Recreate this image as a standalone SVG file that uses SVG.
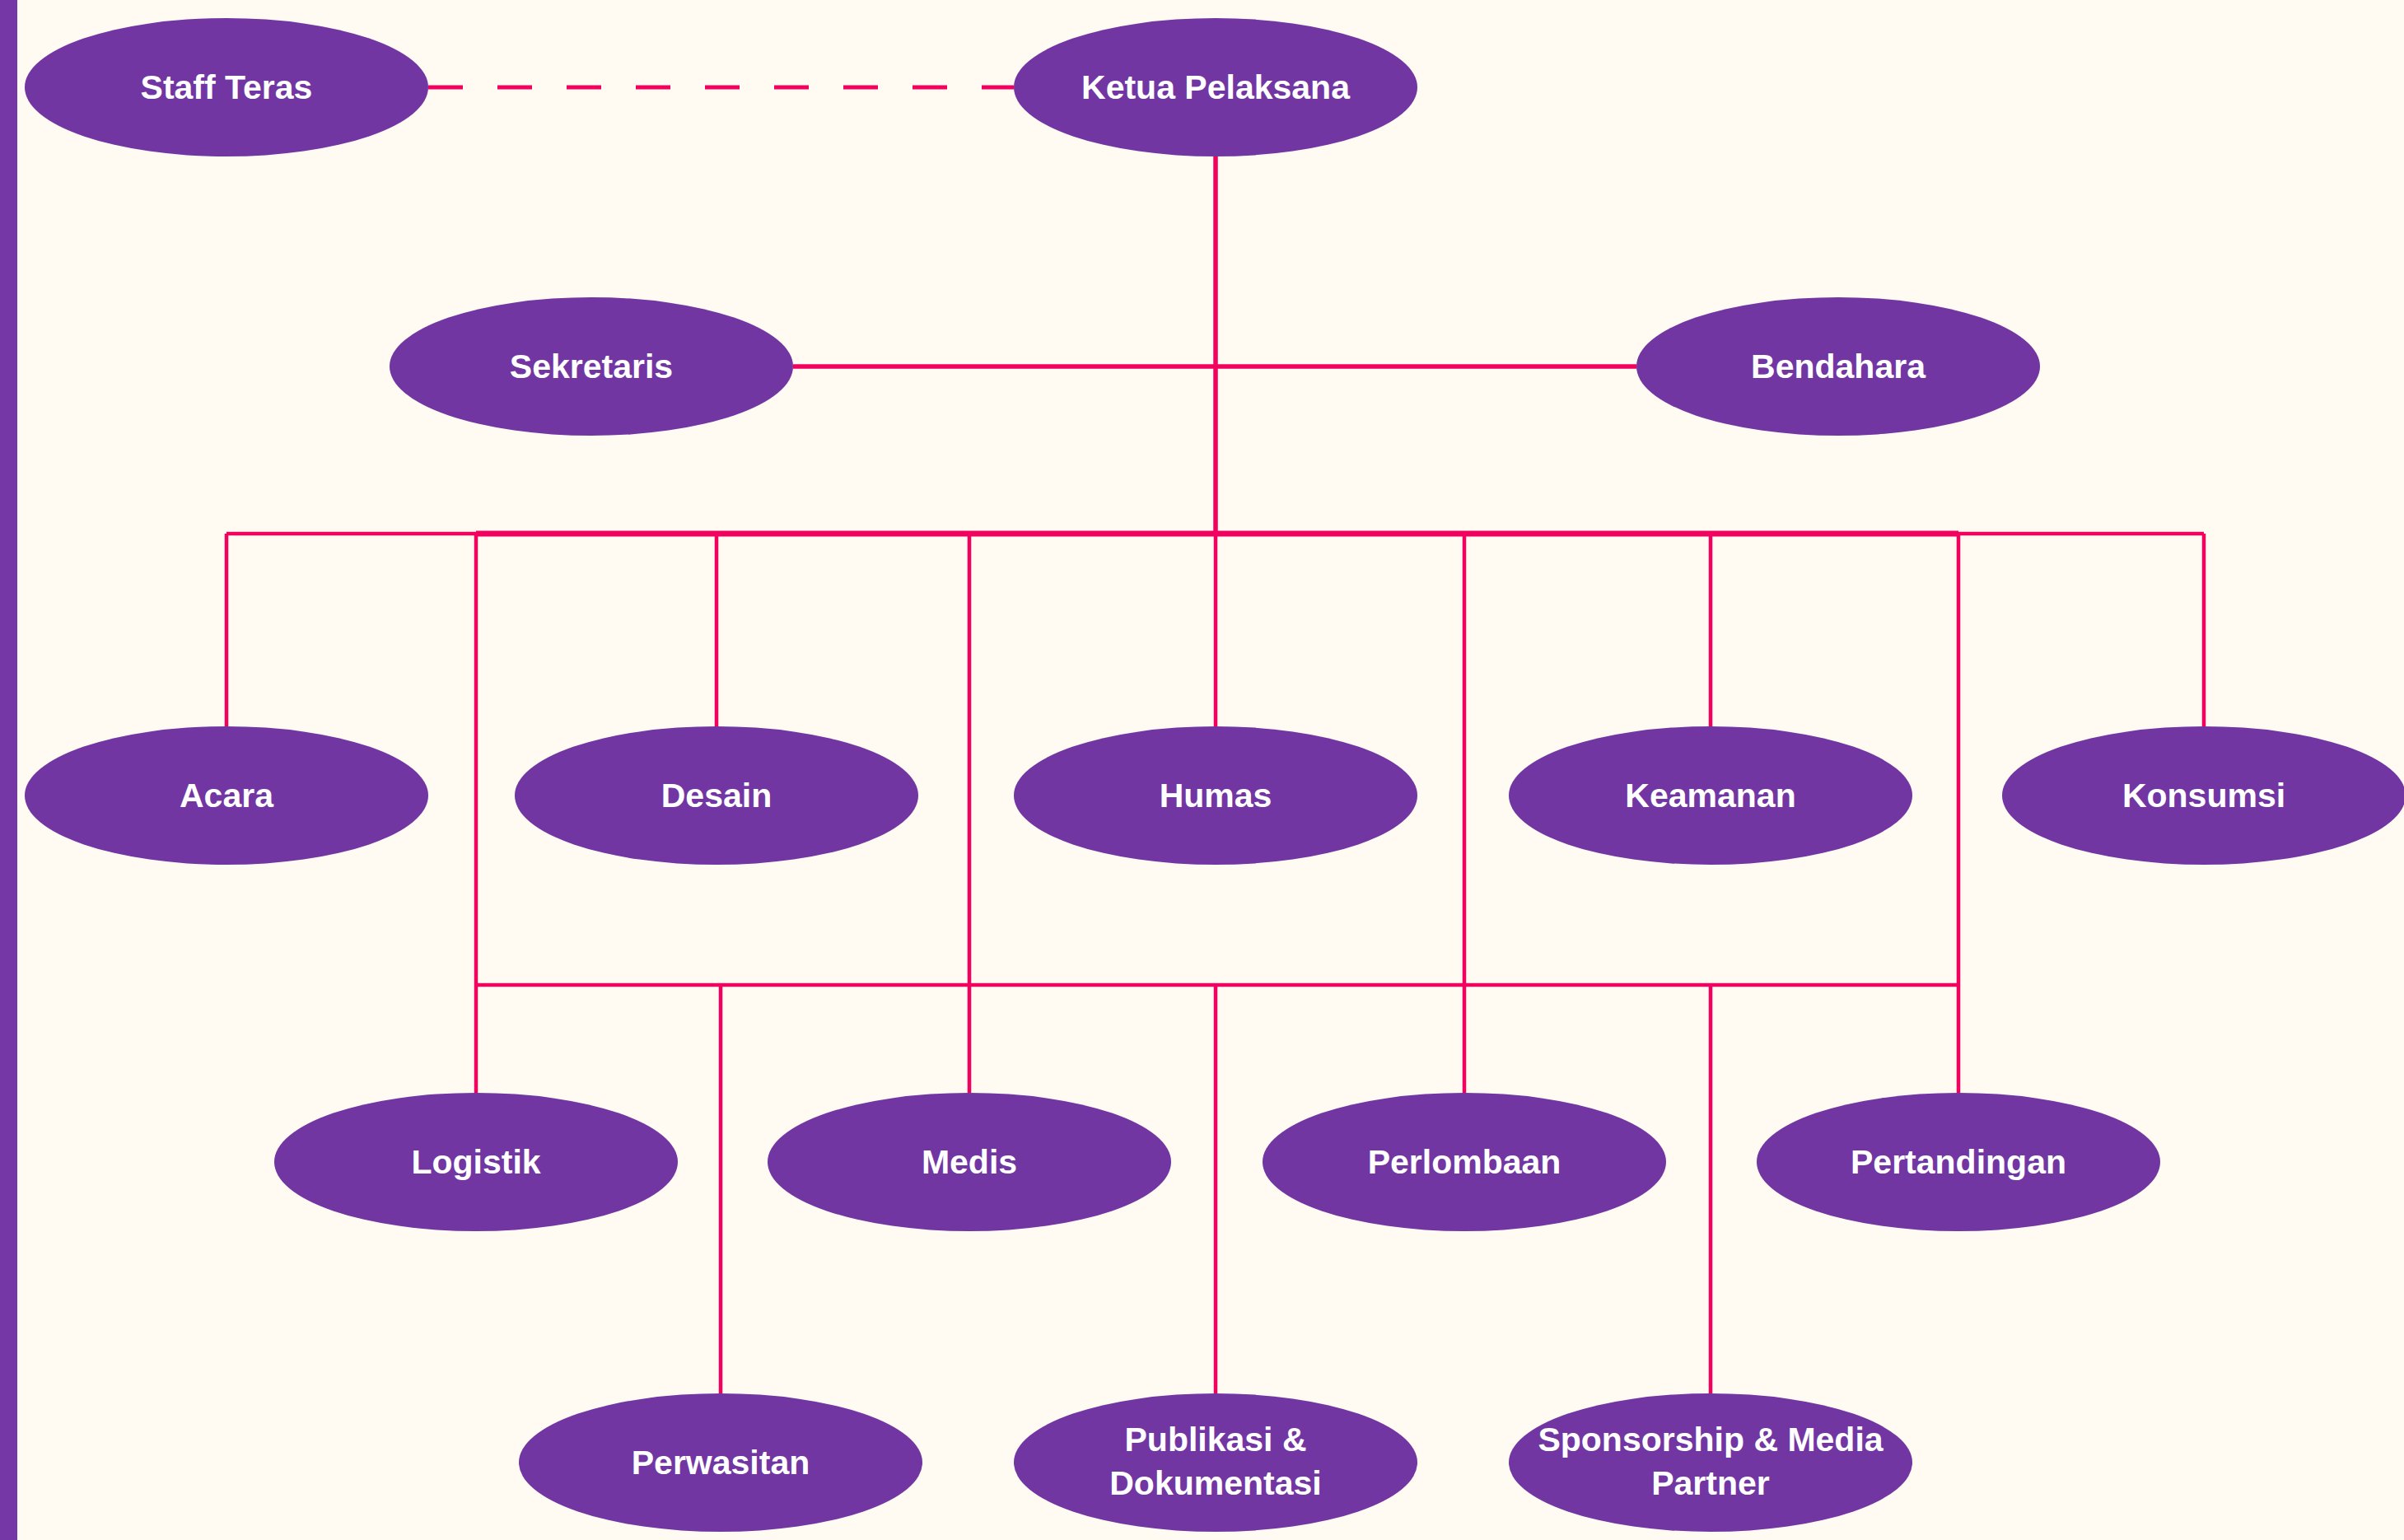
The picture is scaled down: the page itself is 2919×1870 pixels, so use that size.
<svg xmlns="http://www.w3.org/2000/svg" width="2919" height="1870" viewBox="0 0 2919 1870">
<style>
.n ellipse{fill:#7236A3}
.n text{fill:#FFFFFF;font-family:"Liberation Sans",Arial,sans-serif;font-weight:bold;font-size:41px;text-anchor:middle}
.c path{fill:none;stroke:#F2025F;stroke-width:4.5;stroke-linecap:butt}
.c .t{stroke-width:5.5}
.c .b{stroke-width:7}
.c .d{stroke-width:5;stroke-dasharray:42 42}
</style>
<rect x="0" y="0" width="2919" height="1870" fill="#FFFAF2"/>
<rect x="0" y="0" width="21" height="1870" fill="#7536A6"/>
<g class="c" id="connectors">
<path class="d" d="M520 106H1231"/>
<path class="t" d="M1476 190V648"/>
<path class="t" d="M963 445H1987"/>
<path d="M275 648H2676"/>
<path class="b" d="M578 648H2378"/>
<path d="M275 648V883M870 648V883M1476 648V883M2077 648V883M2676 648V883"/>
<path d="M578 648V1327M1177 648V1327M1778 648V1327M2378 648V1327"/>
<path d="M578 1196H2378"/>
<path d="M875 1196V1692M1476 1196V1692M2077 1196V1692"/>
</g>
<g class="n" id="staff-teras"><ellipse cx="275" cy="106" rx="245" ry="84"/><text x="275" y="120">Staff Teras</text></g>
<g class="n" id="ketua-pelaksana"><ellipse cx="1476" cy="106" rx="245" ry="84"/><text x="1476" y="120">Ketua Pelaksana</text></g>
<g class="n" id="sekretaris"><ellipse cx="718" cy="445" rx="245" ry="84"/><text x="718" y="459">Sekretaris</text></g>
<g class="n" id="bendahara"><ellipse cx="2232" cy="445" rx="245" ry="84"/><text x="2232" y="459">Bendahara</text></g>
<g class="n" id="acara"><ellipse cx="275" cy="966" rx="245" ry="84"/><text x="275" y="980">Acara</text></g>
<g class="n" id="desain"><ellipse cx="870" cy="966" rx="245" ry="84"/><text x="870" y="980">Desain</text></g>
<g class="n" id="humas"><ellipse cx="1476" cy="966" rx="245" ry="84"/><text x="1476" y="980">Humas</text></g>
<g class="n" id="keamanan"><ellipse cx="2077" cy="966" rx="245" ry="84"/><text x="2077" y="980">Keamanan</text></g>
<g class="n" id="konsumsi"><ellipse cx="2676" cy="966" rx="245" ry="84"/><text x="2676" y="980">Konsumsi</text></g>
<g class="n" id="logistik"><ellipse cx="578" cy="1411" rx="245" ry="84"/><text x="578" y="1425">Logistik</text></g>
<g class="n" id="medis"><ellipse cx="1177" cy="1411" rx="245" ry="84"/><text x="1177" y="1425">Medis</text></g>
<g class="n" id="perlombaan"><ellipse cx="1778" cy="1411" rx="245" ry="84"/><text x="1778" y="1425">Perlombaan</text></g>
<g class="n" id="pertandingan"><ellipse cx="2378" cy="1411" rx="245" ry="84"/><text x="2378" y="1425">Pertandingan</text></g>
<g class="n" id="perwasitan"><ellipse cx="875" cy="1776" rx="245" ry="84"/><text x="875" y="1790">Perwasitan</text></g>
<g class="n" id="publikasi"><ellipse cx="1476" cy="1776" rx="245" ry="84"/><text x="1476" y="1762">Publikasi &amp;</text><text x="1476" y="1815">Dokumentasi</text></g>
<g class="n" id="sponsorship"><ellipse cx="2077" cy="1776" rx="245" ry="84"/><text x="2077" y="1762">Sponsorship &amp; Media</text><text x="2077" y="1815">Partner</text></g>
</svg>
